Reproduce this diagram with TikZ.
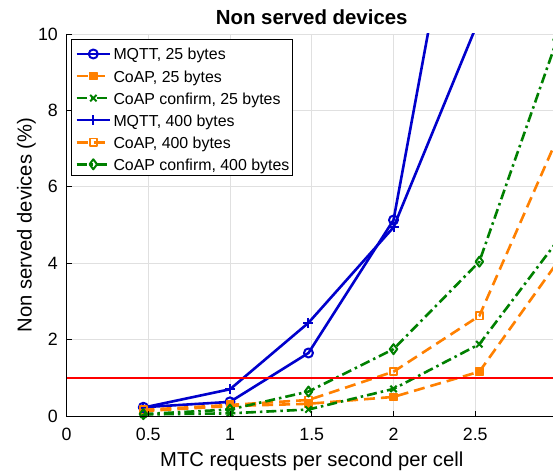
\documentclass[tikz,border=0pt]{standalone}
\usepackage{fontspec}
\setmainfont{Liberation Sans}
\usetikzlibrary{plotmarks}
\definecolor{mqttblue}{RGB}{0,0,204}
\definecolor{coaporange}{RGB}{255,128,0}
\definecolor{confgreen}{RGB}{0,128,0}
\definecolor{gridgray}{RGB}{224,224,224}
\begin{document}
\begin{tikzpicture}[x=1pt, y=1pt,
    series/.style={line width=2.6pt, line join=round},
    mqtt/.style={series, mqttblue},
    coap/.style={series, coaporange, dash pattern=on 11pt off 6pt},
    confirm/.style={series, confgreen, dash pattern=on 10pt off 4pt on 2.5pt off 4pt},
    mqttsmall/.style={mqtt, mark=o, mark size=4.5pt, mark options={solid, fill=white, line width=2pt}},
    coapsmall/.style={coap, mark=square*, mark size=3.6pt, mark options={solid, line width=1.4pt}},
    confsmall/.style={confirm, mark=x, mark size=4.5pt, mark options={solid, line width=2pt}},
    mqttbig/.style={mqtt, mark=+, mark size=5pt, mark options={solid, line width=2pt}},
    coapbig/.style={coap, mark=square, mark size=3.6pt, mark options={solid, fill=white, line width=1.7pt}},
    confbig/.style={confirm, mark=diamond, mark size=5pt, mark options={solid, fill=white, line width=2pt}},
    ticklabel/.style={font=\fontsize{17.8}{20}\selectfont, inner sep=0pt},
    axislabel/.style={font=\fontsize{20.2}{23}\selectfont, inner sep=0pt},
    legendtext/.style={font=\fontsize{15.9}{18}\selectfont, inner sep=0pt, anchor=base west}]
  \useasboundingbox (0,0) rectangle (553,475);
  \fill[white] (0,0) rectangle (553,475);
  \begin{scope}[xshift=66.5pt, yshift=59pt, x=163.5pt, y=38.2pt]
    % Grid
    \foreach \gx in {0.5,1,1.5,2,2.5,3}
      \draw[gridgray, line width=0.8pt] (\gx,0) -- (\gx,10);
    \foreach \gy in {2,4,6,8,10}
      \draw[gridgray, line width=0.8pt] (0,\gy) -- (3,\gy);
    % Curves (clipped at the top of the axes)
    \begin{scope}
      \clip (-0.5,-1) rectangle (3,10);
      \draw[mqttsmall] plot coordinates {(0.47,0.23) (1,0.37) (1.48,1.65) (2,5.13) (2.525,17.3)};
      \draw[coapsmall] plot coordinates {(0.47,0.13) (1,0.26) (1.48,0.32) (2,0.50) (2.525,1.16) (3,4.01)};
      \draw[confsmall] plot coordinates {(0.47,0.04) (1,0.07) (1.48,0.17) (2,0.71) (2.525,1.88) (3,4.57)};
      \draw[mqttbig] plot coordinates {(0.47,0.22) (1,0.70) (1.48,2.44) (2,4.94) (2.525,10.4)};
      \draw[coapbig] plot coordinates {(0.47,0.16) (1,0.29) (1.48,0.42) (2,1.16) (2.525,2.62) (3,7.25)};
      \draw[confbig] plot coordinates {(0.47,0.05) (1,0.17) (1.48,0.64) (2,1.75) (2.525,4.04) (3,9.85)};
      % Threshold
      \draw[red, line width=2.6pt] (0,1) -- (3,1);
    \end{scope}
    % Axes and ticks
    \draw[line width=0.7pt] (0,10) -- (0,0) -- (3,0);
    \foreach \tx in {0.5,1,1.5,2,2.5}
      \draw[line width=0.7pt] (\tx,0) -- ++(0,5pt);
    \foreach \ty in {2,4,6,8,10}
      \draw[line width=0.7pt] (0,\ty) -- ++(5pt,0);
    % Tick labels
    \foreach \tx [count=\i] in {0,0.5,1,1.5,2,2.5}
      \node[ticklabel, anchor=base, yshift=-24.7pt] (xtick\i) at (\tx,0) {\tx};
    \foreach \ty in {0,2,4,6,8,10}
      \node[ticklabel, anchor=east, xshift=-8.5pt] (ytick\ty) at (0,\ty) {\ty};
    % Labels
    \node[axislabel, anchor=base, yshift=-50.7pt] (xlabel) at (1.5,0) {MTC requests per second per cell};
    \node[axislabel, anchor=base, rotate=90] (ylabel) at (-0.2128,5) {Non served devices (\%)};
    \node[axislabel, font=\fontsize{20.4}{23}\selectfont\bfseries, anchor=base, yshift=9pt] (title) at (1.5,10) {Non served devices};
  \end{scope}
  % Legend
  \draw[line width=0.7pt, fill=white] (71.7,299.3) rectangle (292.3,435.7);
  \foreach \sty/\lbl [count=\r] in {mqttsmall/{MQTT, 25 bytes}, coapsmall/{CoAP, 25 bytes},
      confsmall/{CoAP confirm, 25 bytes}, mqttbig/{MQTT, 400 bytes},
      coapbig/{CoAP, 400 bytes}, confbig/{CoAP confirm, 400 bytes}} {
    \pgfmathsetmacro{\yy}{421-22.06*(\r-1)}
    \draw[\sty, mark indices={2}] plot coordinates {(76.7,\yy) (93.3,\yy) (110,\yy)};
    \node[legendtext] (entry\r) at (113.3,\yy-6) {\lbl};
  }
\end{tikzpicture}
\end{document}
